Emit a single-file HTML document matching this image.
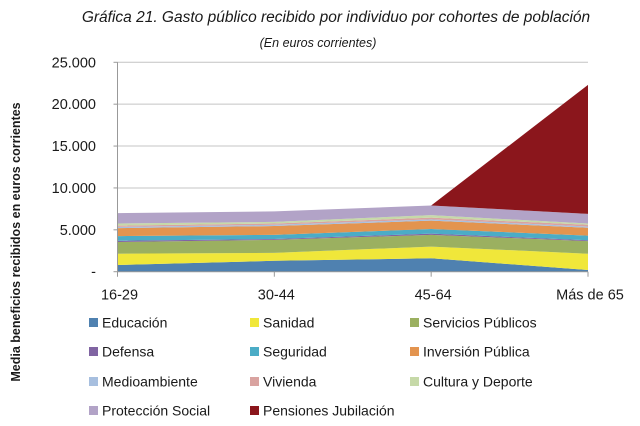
<!DOCTYPE html>
<html><head><meta charset="utf-8">
<style>
body{margin:0;background:#fff;width:640px;height:426px;overflow:hidden;font-family:"Liberation Sans",sans-serif;}
svg{display:block}
</style></head>
<body>
<svg id="chart" width="640" height="426" xmlns="http://www.w3.org/2000/svg">
<text x="336" y="22" text-anchor="middle" font-size="15.5" font-style="italic" fill="#1a1a1a">Gráfica 21. Gasto público recibido por individuo por cohortes de población</text>
<text x="318" y="47" text-anchor="middle" font-size="12.5" font-style="italic" fill="#1a1a1a">(En euros corrientes)</text>
<text transform="translate(20,242) rotate(-90)" text-anchor="middle" font-size="12.5" font-weight="bold" fill="#1a1a1a">Media beneficios recibidos en euros corrientes</text>
<g id="grid"></g><g id="areas"></g><g id="axes"></g><g id="legend"></g>
</svg>
<script>
const categories=["16-29","30-44","45-64","Más de 65"];
const seriesNames=["Educación","Sanidad","Servicios Públicos","Defensa","Seguridad","Inversión Pública","Medioambiente","Vivienda","Cultura y Deporte","Protección Social","Pensiones Jubilación"];
const educacion=[800,1300,1600,200];
const sanidad=[1350,950,1400,1950];
const serviciosPublicos=[1400,1550,1400,1500];
const defensa=[150,100,150,100];
const seguridad=[550,500,550,550];
const inversionPublica=[950,1050,1000,950];
const medioambiente=[150,150,150,150];
const vivienda=[150,150,200,200];
const culturaDeporte=[250,200,300,150];
const proteccionSocial=[1250,1250,1150,1150];
const pensiones=[0,0,0,15400];
const yTicks=[0,5000,10000,15000,20000,25000];
const yTickLabels=["-","5.000","10.000","15.000","20.000","25.000"];

const series=[educacion,sanidad,serviciosPublicos,defensa,seguridad,inversionPublica,medioambiente,vivienda,culturaDeporte,proteccionSocial,pensiones];
const colors=["#4f81b0","#f0e73a","#9bb060","#8064a2","#4bacc6","#e3944f","#a7bfdf","#d9a3a0","#c6d9a8","#b2a3c7","#8b161c"];
const X0=117.5,X1=588,Y0=271.7,Y1=62.3,YMAX=25000;
const ns="http://www.w3.org/2000/svg";
function xs(i){return X0+(X1-X0)*i/(categories.length-1);}
function ys(v){return Y0-(Y0-Y1)*v/YMAX;}
function mk(tag,attrs,parent){const e=document.createElementNS(ns,tag);for(const k in attrs)e.setAttribute(k,attrs[k]);parent.appendChild(e);return e;}
const grid=document.getElementById('grid'),areas=document.getElementById('areas'),axes=document.getElementById('axes'),legend=document.getElementById('legend');
yTicks.forEach((t,i)=>{
  if(t>0){const l=mk('line',{x1:X0,x2:X1,y1:ys(t),y2:ys(t),stroke:'#c4c4c4','stroke-width':1},grid);
  
  }
  const tx=mk('text',{x:96,y:ys(t)+5,'text-anchor':'end','font-size':14.5,fill:'#1a1a1a'},axes);
  tx.textContent=yTickLabels[i];
  
  
  const tk=mk('line',{x1:X0-4,x2:X0,y1:ys(t),y2:ys(t),stroke:'#999'},axes);
  
  
});
let base=categories.map(()=>0);
series.forEach((s,k)=>{
  const top=base.map((b,i)=>b+s[i]);
  let pts=top.map((v,i)=>xs(i)+','+ys(v));
  for(let i=categories.length-1;i>=0;i--)pts.push(xs(i)+','+ys(base[i]));
  const p=mk('polygon',{points:pts.join(' '),fill:colors[k]},areas);
  
  
  base=top;
});
const ya=mk('line',{x1:X0,x2:X0,y1:Y1,y2:Y0,stroke:'#999'},axes);


const xa=mk('line',{x1:X0,x2:X1,y1:Y0,y2:Y0,stroke:'#999'},axes);


categories.forEach((c,i)=>{
  const tk=mk('line',{x1:xs(i),x2:xs(i),y1:Y0,y2:Y0+5,stroke:'#999'},axes);
  
  
  const t=mk('text',{x:xs(i)+2,y:Y0+28,'text-anchor':'middle','font-size':14.5,fill:'#1a1a1a'},axes);
  t.textContent=c;
  
  
});
const colX=[89,250,410],rowY=[323,352,382,411];
seriesNames.forEach((n,k)=>{
  const cx=colX[k%3],cy=rowY[Math.floor(k/3)];
  const g=mk('g',{},legend);
  
  
  mk('rect',{x:cx,y:cy-5,width:9,height:9,fill:colors[k]},g);
  const t=mk('text',{x:cx+13,y:cy+4.5,'font-size':14,fill:'#1a1a1a'},g);
  t.textContent=n;
});
</script>
</body></html>
